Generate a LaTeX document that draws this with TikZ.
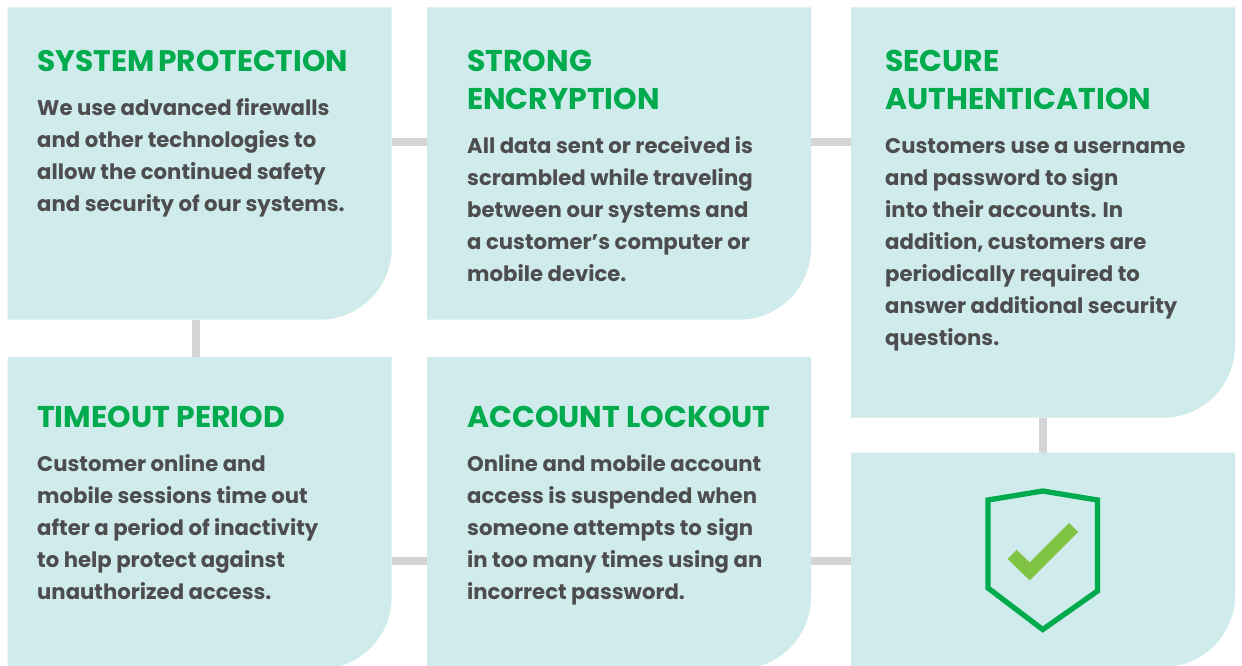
\documentclass[tikz,border=0pt]{standalone}
\usepackage{fontspec}
\setmainfont{Poppins}
\definecolor{cardbg}{HTML}{D0EBEB}
\definecolor{conn}{HTML}{D2D4D6}
\definecolor{headgreen}{HTML}{00AB4E}
\definecolor{bodygray}{HTML}{4D4D4F}
\definecolor{checkgreen}{HTML}{80C342}
\tikzset{x=1pt,y=-1pt,
 head/.style={anchor=north west,inner sep=0,text=headgreen,font=\fontsize{30}{38}\selectfont\bfseries,align=left},
 body/.style={anchor=north west,inner sep=0,text=bodygray,font=\fontsize{21.2}{32}\selectfont\bfseries,align=left},
 link/.style={draw=conn,line width=8pt}}
\newcommand{\card}[5]{% name x1 y1 x2 y2
 \fill[cardbg] (#2,#3) -- (#4,#3) -- (#4,#5-72) arc[start angle=0,end angle=90,radius=72] -- (#2,#5) -- cycle;
 \coordinate (#1) at ({(#2+#4)/2},{(#3+#5)/2});}
\begin{document}
\begin{tikzpicture}
\useasboundingbox (0,0) rectangle (1242,665);
\fill[white] (0,0) rectangle (1242,665);
\coordinate (a) at (392,142); \coordinate (b) at (427,142);
\coordinate (c) at (811,142); \coordinate (d) at (851,142);
\coordinate (e) at (196.3,320); \coordinate (f) at (196.3,357);
\coordinate (g) at (392,561); \coordinate (h) at (427,561);
\coordinate (i) at (811,561); \coordinate (j) at (851,561);
\coordinate (k) at (1042.7,418); \coordinate (l) at (1042.7,453);
\draw[link] (a)--(b); \draw[link] (c)--(d); \draw[link] (e)--(f);
\draw[link] (g)--(h); \draw[link] (i)--(j); \draw[link] (k)--(l);
\card{c1}{7.7}{7.3}{391.7}{319.7}
\card{c2}{427}{7.3}{811}{319.7}
\card{c3}{851}{7.3}{1235}{417.7}
\card{c4}{7.7}{357}{391.7}{669}
\card{c5}{427}{357}{811}{669}
\card{c6}{851}{452.5}{1235}{667}
\node[head,font=\fontsize{29.7}{38}\selectfont\bfseries] (h1) at (37,49.7) {SYSTEM\kern-2.5pt{} PROTECTION};
\node[head] (h2) at (467,49.5) {STRONG\\ENCRYPTION};
\node[head] (h3) at (885,49.5) {SECURE\\AUTHENTICATION};
\node[head] (h4) at (37,405.5) {TIMEOUT PERIOD};
\node[head] (h5) at (467,405.5) {ACCOUNT LOCKOUT};
\node[body] (b1) at (37,98) {We use advanced firewalls\\and other technologies to\\allow the continued safety\\and security of our systems.};
\node[body] (b2) at (467,136) {All data sent or received is\\scrambled while traveling\\between our systems and\\a customer’s computer or\\mobile device.};
\node[body] (b3) at (885,138) {Customers use a username\\and password to sign\\into their accounts. In\\addition, customers are\\periodically required to\\answer additional security\\questions.};
\node[body] (b4) at (37,454) {Customer online and\\mobile sessions time out\\after a period of inactivity\\to help protect against\\unauthorized access.};
\node[body] (b5) at (467,454) {Online and mobile account\\access is suspended when\\someone attempts to sign\\in too many times using an\\incorrect password.};
\draw[headgreen,line width=5.3pt,miter limit=10] (1042.7,491) -- (1097.5,500) -- (1097.5,591) -- (1042.7,629.5) -- (988,588) -- (988,500) -- cycle;
\fill[checkgreen] (1007.7,559) -- (1016.7,550) -- (1029.7,562.3) -- (1069,523) -- (1078,532) -- (1029.7,580.3) -- cycle;
\end{tikzpicture}
\end{document}
